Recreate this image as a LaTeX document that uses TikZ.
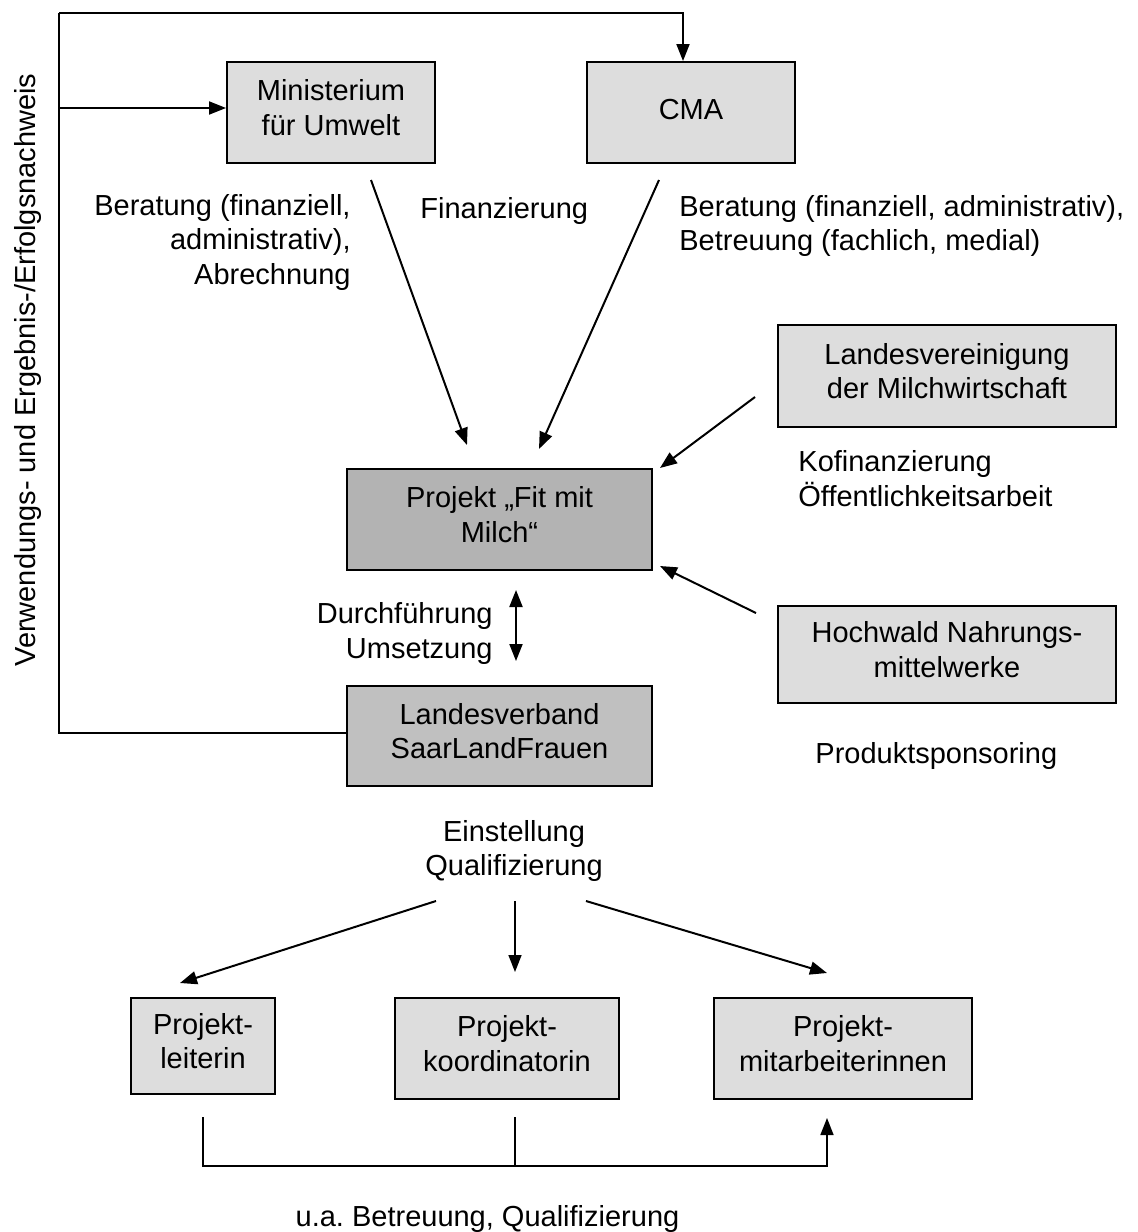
\documentclass[tikz,border=0pt]{standalone}
\usepackage{fontspec}
\setmainfont{Liberation Sans}
\usetikzlibrary{arrows.meta}
\definecolor{boxlight}{HTML}{DDDDDD}
\definecolor{boxdark}{HTML}{B3B3B3}
\definecolor{boxmid}{HTML}{C0C0C0}
\begin{document}
\frenchspacing
\begin{tikzpicture}[x=0.5pt,y=-0.5pt,
  every node/.style={font=\fontsize{14.5}{17.25}\selectfont\frenchspacing},
  lbl/.style={inner sep=0pt, execute at begin node=\strut, execute at end node=\strut},
  box/.style={draw=black, line width=1pt, fill=boxlight, align=center, inner sep=0pt,
    execute at begin node=\strut, execute at end node=\strut},
  darkbox/.style={box, fill=boxdark},
  midbox/.style={box, fill=boxmid},
  lowbox/.style={box, line width=1.4pt},
  conn/.style={line width=1pt},
  thinconn/.style={line width=0.8pt},
  tip/.style={-{Triangle[length=8.5pt,width=6.5pt]}},
  arr/.style={conn, tip},
  thinarr/.style={thinconn, tip},
  arrboth/.style={conn, {Triangle[length=8.5pt,width=6.5pt]}-{Triangle[length=8.5pt,width=6.5pt]}}
]
\useasboundingbox (0,0) rectangle (1138,1232);

% boxes
\node[box, minimum width=104pt, minimum height=50.5pt] (min) at (331,112.5) {Ministerium\\für Umwelt};
\node[box, minimum width=104pt, minimum height=50.5pt] (cma) at (691,112.5) {CMA};
\node[darkbox, minimum width=152.5pt, minimum height=50.5pt] (proj) at (499.5,519.5) {Projekt „Fit mit\\Milch“};
\node[midbox, minimum width=152.5pt, minimum height=50pt] (lv) at (499.5,736) {Landesverband\\SaarLandFrauen};
\node[box, minimum width=169pt, minimum height=51pt] (lvm) at (947,376) {Landesvereinigung\\der Milchwirtschaft};
\node[box, minimum width=169pt, minimum height=48.5pt] (hw) at (947,654.5) {Hochwald Nahrungs-\\mittelwerke};
\node[lowbox, minimum width=72pt, minimum height=48pt] (pl) at (203,1046) {Projekt-\\leiterin};
\node[lowbox, minimum width=112pt, minimum height=50.5pt] (pk) at (507,1048.5) {Projekt-\\koordinatorin};
\node[lowbox, minimum width=129pt, minimum height=50.5pt] (pm) at (843,1048.5) {Projekt-\\mitarbeiterinnen};

% labels
\node[lbl, anchor=east, align=right] (l1) at (351,244.6) {Beratung (finanziell,\\administrativ),\\Abrechnung};
\node[lbl, anchor=base west] (l2) at (420,218) {Finanzierung};
\node[lbl, anchor=west, align=left] (l3) at (679,228.1) {Beratung (finanziell, administrativ),\\Betreuung (fachlich, medial)};
\node[lbl, anchor=west, align=left] (l4) at (798,483.6) {Kofinanzierung\\Öffentlichkeitsarbeit};
\node[lbl, anchor=base west] (l5) at (815,763) {Produktsponsoring};
\node[lbl, anchor=east, align=right] (l6) at (493,635.6) {Durchführung\\Umsetzung};
\node[lbl, align=center] (l7) at (514,853.1) {Einstellung\\Qualifizierung};
\node[lbl, anchor=base] (l8) at (487.5,1226) {u.a.\ Betreuung, Qualifizierung};
\node[lbl, anchor=base, rotate=90] (l9) at (35,370) {Verwendungs- und Ergebnis-/Erfolgsnachweis};

% feedback loop
\coordinate (tl) at (59,13);
\coordinate (mj) at (59,108);
\draw[conn] ([yshift=1.5pt]lv.west) -| (tl);
\draw[arr] (tl) -| ([xshift=-4pt]cma.north);
\draw[arr] (mj) -- (mj -| min.west);

% arrows to project
\coordinate (a1s) at (371,180); \coordinate (a1e) at (467,445);
\coordinate (a2s) at (659,180); \coordinate (a2e) at (539,449);
\coordinate (a3s) at (755,397); \coordinate (a3e) at (660,468);
\coordinate (a4s) at (756,613); \coordinate (a4e) at (660,566);
\draw[arr] (a1s) -- (a1e);
\draw[arr] (a2s) -- (a2e);
\draw[arr] (a3s) -- (a3e);
\draw[arr] (a4s) -- (a4e);

% double arrow
\coordinate (dbs) at (516,590); \coordinate (dbe) at (516,661);
\draw[arrboth] (dbs) -- (dbe);

% Einstellung arrows
\coordinate (e1s) at (436,901); \coordinate (e1e) at (180,983);
\coordinate (e2s) at (515,901); \coordinate (e2e) at (515,972);
\coordinate (e3s) at (586,901); \coordinate (e3e) at (827,973);
\draw[arr] (e1s) -- (e1e);
\draw[thinarr] (e2s) -- (e2e);
\draw[arr] (e3s) -- (e3e);

% bottom bracket
\coordinate (b1) at (203,1117);
\coordinate (b2) at (515,1117);
\coordinate (b3) at (827,1118);
\draw[thinarr] (b1) -- ++(0,49) -| (b3);
\draw[thinconn] (b2) -- ++(0,49);
\end{tikzpicture}
\end{document}
